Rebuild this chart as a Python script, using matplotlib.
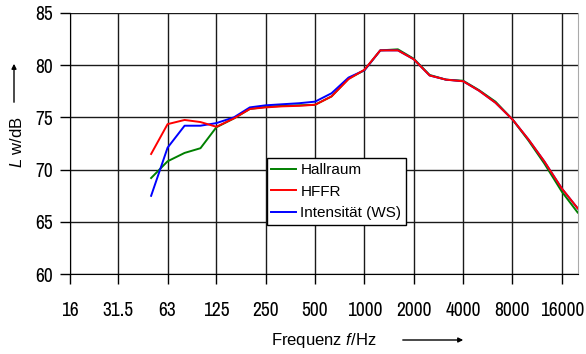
import matplotlib
matplotlib.use("Agg")
import matplotlib.pyplot as plt

# third-octave band centre frequencies (Hz)
freqs = [50, 63, 80, 100, 125, 160, 200, 250, 315, 400, 500, 630, 800, 1000,
         1250, 1600, 2000, 2500, 3150, 4000, 5000, 6300, 8000, 10000, 12500,
         16000, 20000]

hallraum = [69.2, 70.8, 71.6, 72.05, 74.05, 74.9, 75.8, 76.0, 76.1, 76.15, 76.2,
            77.0, 78.7, 79.5, 81.4, 81.5, 80.6, 79.05, 78.6, 78.5, 77.6, 76.5,
            74.8, 72.8, 70.6, 67.9, 65.9]
hffr = [71.5, 74.35, 74.75, 74.55, 74.1, 74.9, 75.8, 75.95, 76.05, 76.1, 76.2,
        77.0, 78.65, 79.55, 81.4, 81.4, 80.55, 79.0, 78.6, 78.45, 77.55, 76.4,
        74.8, 72.9, 70.8, 68.2, 66.3]
intensitaet = [67.5, 72.1, 74.2, 74.2, 74.45, 75.0, 75.95, 76.15, 76.25, 76.35,
               76.5, 77.3, 78.8, 79.5, 81.4, 81.4, 80.55, 79.0, 78.6, 78.45,
               77.55, 76.4, 74.8, 72.9, 70.8, 68.2, 66.3]

octaves = [16, 31.5, 63, 125, 250, 500, 1000, 2000, 4000, 8000, 16000]
octave_labels = ["16", "31.5", "63", "125", "250", "500", "1000", "2000",
                 "4000", "8000", "16000"]
y_ticks = [60, 65, 70, 75, 80, 85]

plt.rcParams['font.family'] = ['Liberation Sans', 'DejaVu Sans']
plt.rcParams['mathtext.fontset'] = 'custom'
plt.rcParams['mathtext.rm'] = 'Liberation Sans'
plt.rcParams['mathtext.it'] = 'Liberation Sans:italic'

fig = plt.figure(figsize=(5.86, 3.54), dpi=100)
ax = fig.add_axes([70/586, 1-274.3/354, 507.7/586, 261.6/354])

ax.plot(freqs, hallraum, color='#008000', lw=1.4, label='Hallraum', zorder=3)
ax.plot(freqs, intensitaet, color='#0000ff', lw=1.4, label='Intensität (WS)', zorder=4)
ax.plot(freqs, hffr, color='#ff0000', lw=1.4, label='HFFR', zorder=5)

ax.set_xscale('log')
ax.set_xlim(16, 20000)
ax.set_ylim(60, 85)
ax.set_xticks(octaves)
ax.set_xticklabels(octave_labels)
ax.minorticks_off()
ax.set_yticks(y_ticks)
ax.grid(True, color='#1a1a1a', lw=1.0)
ax.set_axisbelow(True)

# narrow tick labels like the original
for lab in ax.get_xticklabels() + ax.get_yticklabels():
    lab.set_family(['Archivo Narrow', 'Liberation Sans'])
    lab.set_fontsize(14)
ax.tick_params(axis='both', length=7, width=1, color='black')
ax.tick_params(axis='x', pad=12)
ax.tick_params(axis='y', pad=5)

ax.spines['top'].set_visible(False)
ax.spines['right'].set_color('#aaaaaa')
ax.spines['left'].set_color('black')
ax.spines['bottom'].set_color('black')

h, l = ax.get_legend_handles_labels()
order = [0, 2, 1]
leg = ax.legend([h[i] for i in order], [l[i] for i in order],
                loc='upper left', bbox_to_anchor=(266.7/586, 1-158.3/354),
                bbox_transform=fig.transFigure, fontsize=11, frameon=True,
                fancybox=False, edgecolor='black', framealpha=1,
                handlelength=1.6, handletextpad=0.3, labelspacing=0.5,
                borderpad=0.3, borderaxespad=0)
leg.get_frame().set_linewidth(1.0)

# axis labels with arrows
fig.text(324/586, 1-340/354, 'Frequenz $f$/Hz', ha='center', va='center', fontsize=12)
fig.text(17/586, 1-142.5/354, '$L$ w/dB', rotation=90, ha='center', va='center', fontsize=12)
fig.add_artist(matplotlib.patches.FancyArrowPatch(
    (400/586, 1-340/354), (466/586, 1-340/354), transform=fig.transFigure,
    arrowstyle='-|>', mutation_scale=7, lw=1, color='black'))
fig.add_artist(matplotlib.patches.FancyArrowPatch(
    (14/586, 1-105/354), (14/586, 1-61/354), transform=fig.transFigure,
    arrowstyle='-|>', mutation_scale=7, lw=1, color='black'))

fig.savefig('out.png', dpi=100)
